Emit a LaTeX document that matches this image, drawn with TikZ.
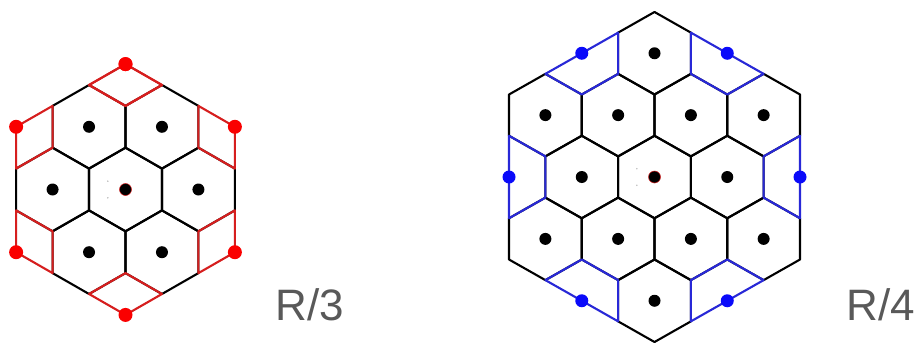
\documentclass[tikz,border=0pt]{standalone}
\usepackage{fontspec}
\setmainfont{Liberation Sans}
\definecolor{redline}{RGB}{214,30,30}
\definecolor{reddot}{RGB}{250,0,0}
\definecolor{blueline}{RGB}{40,40,215}
\definecolor{bluedot}{RGB}{10,10,250}
\definecolor{labelgray}{RGB}{89,89,89}
\newcommand\hexcell[2]{\draw[hexline,shift={(#1,#2)}] (0,1) -- (0.866,0.5) -- (0.866,-0.5) -- (0,-1) -- (-0.866,-0.5) -- (-0.866,0.5) -- cycle;}
\tikzset{
  hexline/.style={draw=black,line width=2.1pt,line join=round},
  redcell/.style={draw=redline,line width=2.1pt,line join=round},
  bluecell/.style={draw=blueline,line width=2.1pt,line join=round},
  blackdot/.style={fill=black},
  rdot/.style={fill=reddot},
  bdot/.style={fill=bluedot},
  lbl/.style={text=labelgray,font=\fontsize{44}{50}\selectfont,inner sep=0pt,anchor=base west}
}
\begin{document}
\begin{tikzpicture}
\useasboundingbox[fill=white] (0pt,0pt) rectangle (917pt,-343pt);
% left figure, R/3
\begin{scope}[shift={(125.5pt,-189.5pt)},x=42.1pt,y=41.8pt]
  \foreach \cx/\cy in {0/0,1.732/0,-1.732/0,0.866/1.5,-0.866/1.5,0.866/-1.5,-0.866/-1.5}
    {\hexcell{\cx}{\cy}}
  \foreach \t in {90,150,...,450}
    {\draw[redcell] (\t:3) -- ++(\t+120:1) -- ++(\t+240:1) -- ++(\t+300:1) -- cycle;}
  \foreach \cx/\cy in {1.732/0,-1.732/0,0.866/1.5,-0.866/1.5,0.866/-1.5,-0.866/-1.5}
    {\fill[blackdot] (\cx,\cy) circle[radius=6pt];}
  \filldraw[fill=black,draw=redline,line width=0.5pt] (0,0) circle[radius=6pt];
  \fill[black!30] (-0.42,0.2) circle[radius=0.8pt] (-0.42,-0.2) circle[radius=0.8pt];
  \foreach \t in {90,150,...,450}
    {\fill[rdot] (\t:3) circle[radius=7pt];}
\end{scope}
% right figure, R/4
\begin{scope}[shift={(654.5pt,-177pt)},x=42.0pt,y=41.25pt]
  \foreach \cx/\cy in {0/0,1.732/0,-1.732/0,0.866/1.5,-0.866/1.5,0.866/-1.5,-0.866/-1.5,
      2.598/1.5,-2.598/1.5,2.598/-1.5,-2.598/-1.5,0/3,0/-3}
    {\hexcell{\cx}{\cy}}
  \foreach \p in {0,60,...,300}
    {\draw[bluecell] (\p:3.464) ++(\p+90:1) -- ++(\p+210:1) -- ++(\p+270:1) -- ++(\p+330:1) -- cycle;}
  \foreach \cx/\cy in {1.732/0,-1.732/0,0.866/1.5,-0.866/1.5,0.866/-1.5,-0.866/-1.5,
      2.598/1.5,-2.598/1.5,2.598/-1.5,-2.598/-1.5,0/3,0/-3}
    {\fill[blackdot] (\cx,\cy) circle[radius=6pt];}
  \filldraw[fill=black,draw=redline,line width=0.5pt] (0,0) circle[radius=6pt];
  \fill[black!30] (-0.42,0.2) circle[radius=0.8pt] (-0.42,-0.2) circle[radius=0.8pt];
  \foreach \p in {0,60,...,300}
    {\fill[bdot] (\p:3.464) circle[radius=6.5pt];}
\end{scope}
\node[lbl] (labelthree) at (275.5pt,-320pt) {R/3};
\node[lbl] (labelfour) at (846.5pt,-320pt) {R/4};
\end{tikzpicture}
\end{document}
